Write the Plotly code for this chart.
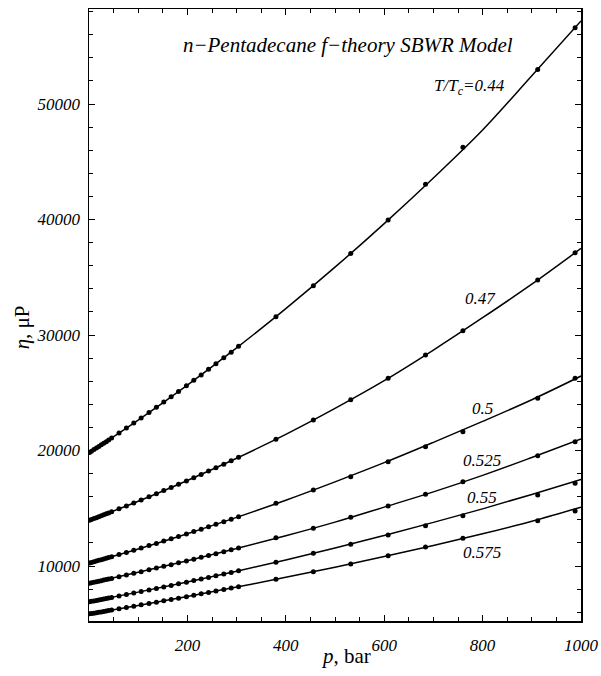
import plotly.graph_objects as go

# ---------------- data ----------------
pressure_bar = [1, 5, 10, 15, 20, 25, 30, 35, 40, 46, 61, 76, 91, 106, 122, 137,
                152, 167, 182, 198, 213, 228, 243, 258, 274, 289, 304,
                380, 456, 532, 608, 684, 760, 912, 988]

eta_044 = [19830, 19940, 20080, 20220, 20350, 20490, 20630, 20770, 20910, 21080,
           21510, 21950, 22380, 22820, 23290, 23740, 24200, 24650, 25110, 25610,
           26080, 26550, 27030, 27520, 28030, 28520, 29020,
           31590, 34270, 37060, 39960, 43050, 46250, 53000, 56600]
eta_047 = [13970, 14030, 14110, 14190, 14270, 14350, 14440, 14520, 14600, 14700,
           14950, 15200, 15460, 15720, 16000, 16260, 16530, 16800, 17080, 17370,
           17650, 17930, 18220, 18510, 18820, 19110, 19410,
           20970, 22640, 24400, 26250, 28270, 30370, 34760, 37130]
eta_050 = [10260, 10310, 10370, 10430, 10490, 10550, 10610, 10670, 10730, 10810,
           10990, 11180, 11370, 11560, 11770, 11960, 12160, 12360, 12560, 12780,
           12980, 13190, 13400, 13610, 13840, 14050, 14270,
           15430, 16580, 17730, 19030, 20330, 21630, 24520, 26250]
eta_0525 = [8510, 8550, 8590, 8640, 8690, 8730, 8780, 8830, 8880, 8930,
            9080, 9220, 9370, 9510, 9670, 9820, 9970, 10120, 10280, 10440,
            10590, 10750, 10910, 11070, 11240, 11400, 11560,
            12450, 13260, 14220, 15190, 16210, 17300, 19550, 20760]
eta_055 = [6910, 6940, 6980, 7020, 7060, 7100, 7150, 7190, 7230, 7280,
           7400, 7530, 7660, 7790, 7930, 8060, 8190, 8320, 8460, 8600,
           8740, 8880, 9010, 9150, 9300, 9450, 9590,
           10320, 11100, 11880, 12680, 13490, 14350, 16150, 17160]
eta_0575 = [5860, 5890, 5920, 5960, 6000, 6030, 6070, 6110, 6140, 6190,
            6300, 6410, 6520, 6640, 6760, 6870, 6990, 7110, 7220, 7350,
            7470, 7590, 7710, 7830, 7960, 8090, 8210,
            8850, 9510, 10170, 10890, 11640, 12400, 13920, 14760]

# f-theory SBWR model curves
model_pressure = [0, 100, 200, 300, 400, 500, 600, 700, 800, 900, 1000]
model_044 = [19800, 22640, 25670, 28890, 32290, 35875, 39650, 43600, 47750, 52450, 57200]
model_047 = [13950, 15610, 17410, 19330, 21400, 23650, 26050, 28700, 31500, 34400, 37500]
model_050 = [10250, 11480, 12800, 14210, 15700, 17290, 18950, 20710, 22520, 24400, 26450]
model_0525 = [8500, 9455, 10460, 11515, 12620, 13800, 15100, 16420, 17850, 19400, 21000]
model_055 = [6900, 7740, 8620, 9550, 10530, 11560, 12650, 13780, 14950, 16200, 17500]
model_0575 = [5850, 6590, 7370, 8180, 9020, 9900, 10820, 11780, 12790, 13880, 15100]

series_labels = ["T/T<sub>c</sub>=0.44", "0.47", "0.5", "0.525", "0.55", "0.575"]

x_tick_values = [200, 400, 600, 800, 1000]
x_tick_text = ["200", "400", "600", "800", "1000"]
y_tick_values = [10000, 20000, 30000, 40000, 50000]
y_tick_text = ["10000", "20000", "30000", "40000", "50000"]

# ---------------- figure ----------------
serif = "Liberation Serif"

data_series = [eta_044, eta_047, eta_050, eta_0525, eta_055, eta_0575]
model_series = [model_044, model_047, model_050, model_0525, model_055, model_0575]

fig = go.Figure()
for m in model_series:
    fig.add_trace(go.Scatter(x=model_pressure, y=m, mode="lines",
                             line=dict(color="black", width=1.5, shape="spline"),
                             showlegend=False, hoverinfo="skip"))
for d in data_series:
    fig.add_trace(go.Scatter(x=pressure_bar, y=d, mode="markers",
                             marker=dict(color="black", size=5),
                             showlegend=False))

# curve labels (data coordinates)
label_pos = [(774, 51470), (795, 33200), (799, 23680), (799, 19180), (799, 15970), (799, 11210)]
for txt, (px, py) in zip(series_labels, label_pos):
    fig.add_annotation(x=px, y=py, text=txt, showarrow=False,
                       font=dict(family=serif, size=17, color="black", style="italic"),
                       xanchor="center", yanchor="middle")

# axis titles
fig.add_annotation(xref="paper", yref="paper", x=0.522, y=-0.058,
                   text="<i>p</i>, bar", showarrow=False,
                   font=dict(family=serif, size=21, color="black"),
                   xanchor="center", yanchor="middle")
fig.add_annotation(xref="paper", yref="paper", x=-0.136, y=0.48,
                   text="<i>η</i>, μP", showarrow=False, textangle=-90,
                   font=dict(family=serif, size=21, color="black"),
                   xanchor="center", yanchor="middle")

axis_common = dict(showline=True, linecolor="black", linewidth=1.5, mirror="ticks",
                   ticks="inside", ticklen=6, tickwidth=1, tickcolor="black",
                   showgrid=False, zeroline=False, automargin=False,
                   tickfont=dict(family=serif, size=17, color="black", style="italic"))

fig.update_xaxes(range=[0, 1000], tickvals=x_tick_values, ticktext=x_tick_text,
                 minor=dict(dtick=50, tick0=0, ticks="inside", ticklen=4,
                            tickcolor="black", showgrid=False),
                 ticklabelstandoff=8, **axis_common)
fig.update_yaxes(range=[5240, 58230], tickvals=y_tick_values, ticktext=y_tick_text,
                 minor=dict(dtick=2000, tick0=0, ticks="inside", ticklen=4,
                            tickcolor="black", showgrid=False),
                 ticklabelstandoff=4, **axis_common)

fig.update_layout(
    width=601, height=676,
    margin=dict(l=89, r=20, t=9, b=55, autoexpand=False),
    paper_bgcolor="white", plot_bgcolor="white",
    title=dict(text="n−Pentadecane f−theory SBWR Model",
               x=0.526, xref="paper", xanchor="center",
               y=1 - 45 / 676, yref="container", yanchor="middle",
               font=dict(family=serif, size=21, color="black", style="italic")),
)

fig.write_html("out.html",
               config={"displayModeBar": False, "staticPlot": True},
               post_script="document.body.style.margin='0';document.body.style.overflow='hidden';")
